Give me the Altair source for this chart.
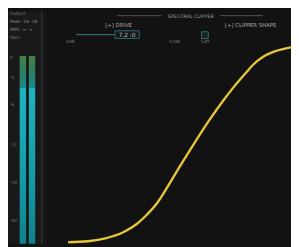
import altair as alt
import pandas as pd

# ---- data ----
curve_in = [-47.22, -43.09, -39.59, -35.46, -32.78, -30.72, -28.66, -25.98, -23.50, -20.41, -17.32, -14.23, -12.16, -9.69, -8.04, -5.98, -3.30, 0.0]
curve_out = [-49.62, -49.37, -48.67, -46.99, -44.98, -42.72, -39.96, -34.94, -29.92, -23.89, -18.12, -12.85, -9.58, -6.07, -3.81, -1.80, -0.29, 0.71]

meter_channels = ["L", "R"]
meter_peak = [0.3, 0.3]
meter_level = [-4.0, -4.0]
meter_floor = [-48.0, -48.0]

meter_ticks = [0, -3, -6, -12, -24, -40]
meter_tick_labels = ["0", "-3", "-6", "-12", "-24", "-40"]

W, H = 291, 239
FONT = "DejaVu Sans"
TXT = "#9a9a9a"
TEAL_LINE = "#2f6a6c"

curve_df = pd.DataFrame({"inp": curve_in, "out": curve_out})
meter_df = pd.DataFrame({"ch": meter_channels, "peak": meter_peak,
                         "level": meter_level, "floor": meter_floor})
ticks_df = pd.DataFrame({"db": meter_ticks, "lab": meter_tick_labels})

meter_y = alt.Scale(domain=[0, -3, -6, -12, -24, -40, -48],
                    range=[48, 69, 96, 138, 177, 216, 239], nice=False, zero=False)
meter_x = alt.Scale(domain=meter_channels, range=[12, 28], paddingInner=0.3, paddingOuter=0)

one = pd.DataFrame({"k": [0]})

def rect(x, x2, y, y2, **kw):
    return alt.Chart(one).mark_rect(**kw).encode(
        x=alt.value(x), x2=alt.value(x2), y=alt.value(y), y2=alt.value(y2))

def hrule(x, x2, y, color, w=1):
    return alt.Chart(one).mark_rule(color=color, strokeWidth=w).encode(
        x=alt.value(x), x2=alt.value(x2), y=alt.value(y))

def vrule(x, y, y2, color, w=1):
    return alt.Chart(one).mark_rule(color=color, strokeWidth=w).encode(
        x=alt.value(x), y=alt.value(y), y2=alt.value(y2))

def label(txt, x, y, size=5.5, color=TXT, align="left", weight="normal"):
    return alt.Chart(one).mark_text(text=txt, font=FONT, fontSize=size, color=color,
                                    align=align, baseline="middle", fontWeight=weight).encode(
        x=alt.value(x), y=alt.value(y))

meter_panel = rect(0, 36, 0, H, color="#191919")
sep1 = vrule(35, 0, H, "#3c3c3c", 1)
sep2 = vrule(38, 0, H, "#202020", 1)

chan_bg = alt.Chart(meter_df).mark_bar(color="#0f1616").encode(
    x=alt.X("ch:N", scale=meter_x, axis=None),
    y=alt.Y("peak:Q", scale=meter_y, axis=None), y2="floor:Q")

peak_bar = alt.Chart(meter_df).mark_bar(
    color=alt.Gradient(gradient="linear", x1=0, x2=0, y1=0, y2=1,
                       stops=[alt.GradientStop(color="#4a8048", offset=0),
                              alt.GradientStop(color="#2f7d62", offset=0.5),
                              alt.GradientStop(color="#1c8a8e", offset=1)])).encode(
    x=alt.X("ch:N", scale=meter_x, axis=None),
    y=alt.Y("peak:Q", scale=meter_y, axis=None), y2="level:Q")

level_bar = alt.Chart(meter_df).mark_bar(
    color=alt.Gradient(gradient="linear", x1=0, x2=0, y1=0, y2=1,
                       stops=[alt.GradientStop(color="#1fb4c0", offset=0),
                              alt.GradientStop(color="#1699a6", offset=0.6),
                              alt.GradientStop(color="#10818d", offset=1)])).encode(
    x=alt.X("ch:N", scale=meter_x, axis=None),
    y=alt.Y("level:Q", scale=meter_y, axis=None), y2="floor:Q")

tick_text = alt.Chart(ticks_df).mark_text(font=FONT, fontSize=4.5, color="#777777",
                                          align="left", baseline="middle").encode(
    x=alt.value(2), y=alt.Y("db:Q", scale=meter_y, axis=None), text="lab:N")

curve = alt.Chart(curve_df).mark_line(color="#e8c63a", strokeWidth=2.4,
                                      interpolate="monotone").encode(
    x=alt.X("inp:Q", scale=alt.Scale(domain=[-60, 0], nice=False, zero=False), axis=None),
    y=alt.Y("out:Q", scale=alt.Scale(domain=[-50, 10], nice=False, zero=False), axis=None))

header = [
    hrule(112, 158, 4.5, "#555555"),
    hrule(218, 262, 4.5, "#555555"),
    label("SPECTRAL CLIPPER", 188, 4.5, size=5, color="#a0a0a0", align="center"),
    label("[+] DRIVE", 100, 14, size=5.5, color="#a8a8a8"),
    label("[+] CLIPPER SHAPE", 223, 14, size=5.5, color="#a8a8a8"),
    hrule(70, 110, 24, TEAL_LINE, 1.5),
    rect(110, 135, 20, 28, fill="#141a1a", stroke=TEAL_LINE, strokeWidth=1),
    label("7.2 :0", 122.5, 24, size=6, color="#bbbbbb", align="center"),
    label("0dB", 64, 32, size=4.5, color="#7a7a7a", align="center"),
    label("12dB", 171, 32, size=4.5, color="#7a7a7a", align="center"),
    rect(199, 206, 21, 28, fill="#1a2222", stroke=TEAL_LINE, strokeWidth=1),
    label("Soft", 202.5, 32, size=4.5, color="#7a7a7a", align="center"),
    label("Output", 2, 3, size=4.5, color="#777777"),
    label("Peak -18 -18", 2, 11, size=4.5, color="#8a8a8a"),
    label("RMS  -\u221e  -\u221e", 2, 19, size=4.5, color="#8a8a8a"),
    label("Gain", 2, 27, size=4.5, color="#777777"),
]

layers = [meter_panel, sep1, sep2, chan_bg, peak_bar, level_bar, tick_text, curve] + header

chart = alt.layer(*layers).resolve_scale(x="independent", y="independent").properties(
    width=W, height=H, padding=0, autosize=alt.AutoSizeParams(type="none")
).configure(background="#121212").configure_view(stroke=None)

chart.save("out.html", embed_options={"renderer": "svg", "actions": False})
